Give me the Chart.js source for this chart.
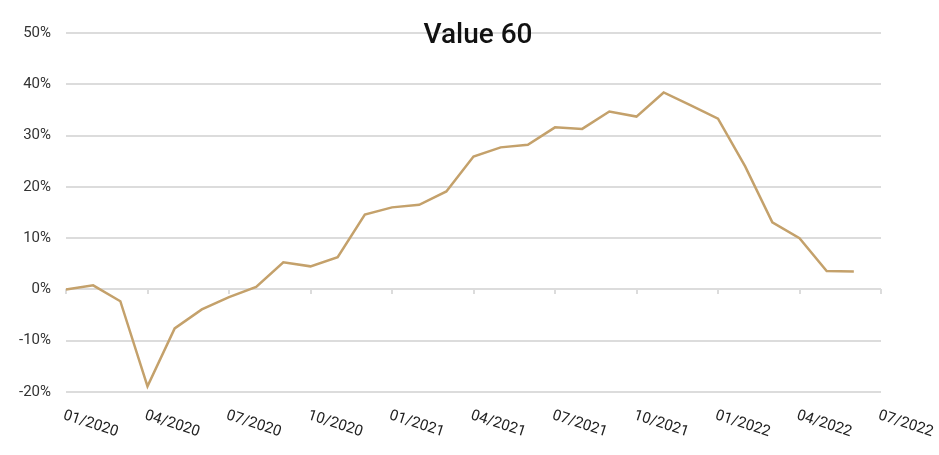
<!DOCTYPE html>
<html>
<head>
<meta charset="utf-8">
<script src="https://cdn.jsdelivr.net/npm/chart.js@4"></script>
<style>
  html, body { margin: 0; padding: 0; background: #fff; }
  #wrap { position: relative; width: 939px; height: 455px; }
  #title { position: absolute; left: 0; top: 20px; width: 956px; text-align: center;
           font: 500 28px Roboto, sans-serif; line-height: 28px; color: #111; pointer-events: none; }
</style>
</head>
<body>
<div id="wrap">
  <canvas id="chart" width="939" height="455"></canvas>
  <div id="title">Value 60</div>
</div>
<script>
var months = [
  "01/2020", "02/2020", "03/2020", "04/2020", "05/2020", "06/2020",
  "07/2020", "08/2020", "09/2020", "10/2020", "11/2020", "12/2020",
  "01/2021", "02/2021", "03/2021", "04/2021", "05/2021", "06/2021",
  "07/2021", "08/2021", "09/2021", "10/2021", "11/2021", "12/2021",
  "01/2022", "02/2022", "03/2022", "04/2022", "05/2022", "06/2022",
  "07/2022"
];
var values = [
  0.0, 0.8, -2.3, -18.9, -7.6, -3.9,
  -1.5, 0.5, 5.3, 4.5, 6.3, 14.6,
  16.0, 16.5, 19.1, 25.9, 27.7, 28.2,
  31.6, 31.3, 34.7, 33.7, 38.4, 35.9,
  33.3, 24.0, 13.1, 10.0, 3.6, 3.5
];
var yMin = -20, yMax = 50, yStep = 10;
var labelEvery = 3;

// x labels are tilted clockwise, starting at the tick: Chart.js only tilts the other way
var tiltedLabels = {
  id: "tiltedLabels",
  afterDraw: function (chart) {
    var xs = chart.scales.x;
    var ctx = chart.ctx;
    var y = chart.chartArea.bottom + 16;
    ctx.save();
    ctx.font = "15px Roboto, sans-serif";
    ctx.fillStyle = "#222";
    ctx.textAlign = "left";
    ctx.textBaseline = "top";
    months.forEach(function (m, i) {
      if (i % labelEvery) return;
      ctx.save();
      ctx.translate(xs.getPixelForValue(i), y);
      ctx.rotate(18 * Math.PI / 180);
      ctx.fillText(m, 0, 0);
      ctx.restore();
    });
    ctx.restore();
  }
};

new Chart(document.getElementById("chart"), {
  type: "line",
  data: {
    labels: months,
    datasets: [{
      data: values,
      borderColor: "#c4a16b",
      borderWidth: 2.5,
      pointRadius: 0,
      tension: 0,
      fill: false
    }]
  },
  options: {
    responsive: false,
    animation: false,
    layout: { padding: { left: 0, top: 33, right: 58, bottom: 63 } },
    plugins: { legend: { display: false }, tooltip: { enabled: false } },
    scales: {
      x: {
        position: { y: 0 },
        ticks: { display: false, autoSkip: false },
        border: { display: false },
        grid: {
          drawOnChartArea: false,
          drawTicks: true,
          tickLength: 5,
          lineWidth: 2,
          color: function (c) { return c.index % labelEvery ? "rgba(0,0,0,0)" : "#dcdcdc"; }
        }
      },
      y: {
        min: yMin,
        max: yMax,
        afterFit: function (s) { s.width = 66; },
        ticks: {
          stepSize: yStep,
          padding: 15,
          color: "#333",
          font: { family: "Roboto", size: 15 },
          callback: function (v) { return v + "%"; }
        },
        border: { display: false },
        grid: { color: "#dcdcdc", lineWidth: 2, drawTicks: false }
      }
    }
  },
  plugins: [tiltedLabels]
});
</script>
</body>
</html>
